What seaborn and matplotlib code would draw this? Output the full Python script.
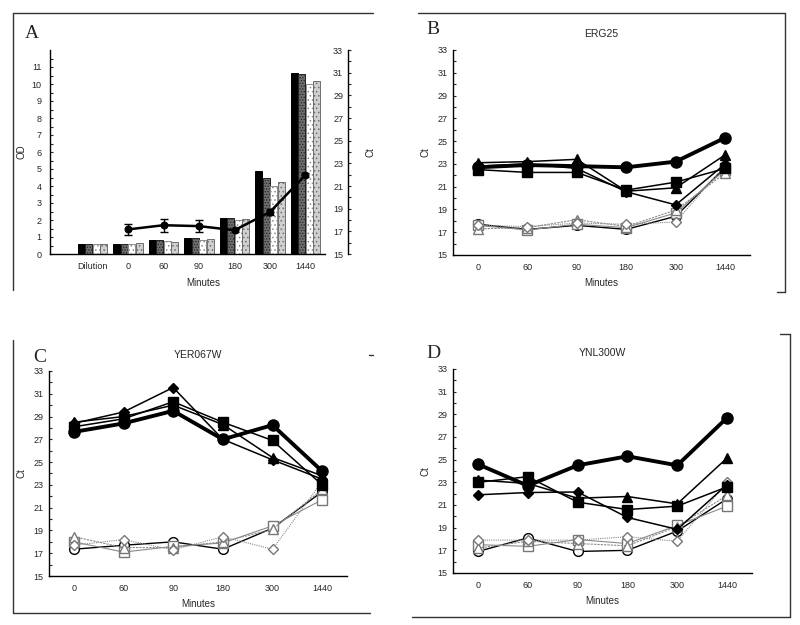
import numpy as np
import pandas as pd
import matplotlib
matplotlib.use("Agg")
import matplotlib.pyplot as plt
import seaborn as sns
from matplotlib.lines import Line2D

# ---- data ----
minutes = ["0", "60", "90", "180", "300", "1440"]
groups_a = ["Dilution"] + minutes

# panel A: OD of the four cultures, and mean Ct of the reference gene
od_black = [0.59, 0.59, 0.82, 0.92, 2.12, 4.88, 10.63]
od_dark = [0.59, 0.59, 0.82, 0.92, 2.12, 4.47, 10.59]
od_white = [0.59, 0.59, 0.75, 0.84, 1.98, 4.00, 10.00]
od_light = [0.59, 0.65, 0.69, 0.86, 2.08, 4.24, 10.18]
ct_mean = [17.17, 17.54, 17.46, 17.10, 18.71, 21.97]
ct_err = [0.45, 0.58, 0.55, 0.12, 0.30, 0.15]

# panels B-D: Ct per series (filled = treated, open = control)
erg25_fc = [22.7, 22.9, 22.8, 22.7, 23.2, 25.3]
erg25_fs = [22.5, 22.25, 22.25, 20.7, 21.4, 22.6]
erg25_ft = [23.1, 23.2, 23.4, 20.6, 20.9, 23.8]
erg25_fd = [22.8, 23.0, 22.6, 20.55, 19.4, 23.0]
erg25_oc = [17.7, 17.25, 17.6, 17.25, 18.4, 22.7]
erg25_os = [17.6, 17.2, 17.7, 17.4, 18.7, 22.5]
erg25_ot = [17.3, 17.4, 18.1, 17.5, 18.95, 22.2]
erg25_od = [17.6, 17.5, 17.8, 17.7, 17.9, 22.9]

yer_fc = [27.65, 28.4, 29.5, 27.0, 28.25, 24.2]
yer_fs = [28.1, 28.8, 30.3, 28.5, 26.9, 23.0]
yer_ft = [28.5, 29.0, 30.0, 28.3, 25.4, 23.8]
yer_fd = [28.4, 29.4, 31.55, 27.0, 25.2, 23.5]
yer_oc = [17.35, 17.7, 18.0, 17.35, 19.2, 22.4]
yer_os = [18.0, 17.1, 17.6, 17.9, 19.4, 21.7]
yer_ot = [18.45, 17.5, 17.5, 18.0, 19.1, 22.6]
yer_od = [17.7, 18.2, 17.3, 18.45, 17.35, 23.3]

ynl_fc = [24.6, 22.7, 24.5, 25.3, 24.5, 28.7]
ynl_fs = [23.0, 23.5, 21.25, 20.6, 20.9, 22.6]
ynl_ft = [23.2, 22.9, 21.6, 21.75, 21.1, 25.15]
ynl_fd = [21.9, 22.1, 22.15, 19.9, 18.85, 22.8]
ynl_oc = [16.9, 18.1, 16.9, 17.0, 18.7, 21.55]
ynl_os = [17.5, 17.35, 17.95, 17.6, 19.2, 20.9]
ynl_ot = [17.2, 17.8, 17.6, 17.4, 19.1, 21.85]
ynl_od = [17.9, 17.9, 17.9, 18.2, 17.8, 23.0]

# ---- style ----
sns.set_style("white")
plt.rcParams["font.family"] = ["Liberation Sans", "DejaVu Sans"]
plt.rcParams["hatch.linewidth"] = 0.6

fig = plt.figure(figsize=(8, 6.25), dpi=100)
W, H = 800, 625


def box(l, t, r, b):
    return fig.add_axes([l / W, 1 - b / H, (r - l) / W, (b - t) / H])


# marker, face, edge, line colour, line width, line style, marker size
series_styles = [
    ("o", "white", "black", "black", 1.0, "-", 7),
    ("s", "white", "#777777", "#8a8a8a", 0.8, "-", 6.5),
    ("^", "white", "#777777", "#8a8a8a", 0.8, (0, (2, 1)), 6.5),
    ("D", "white", "#777777", "#8a8a8a", 0.8, (0, (1, 1)), 5.5),
    ("s", "black", "black", "black", 1.1, "-", 7),
    ("^", "black", "black", "black", 1.1, "-", 7),
    ("D", "black", "black", "black", 1.1, "-", 5.5),
    ("o", "black", "black", "black", 2.8, "-", 8),
]


def ct_panel(ax, title, letter, lx, ly, oc, os_, ot, od, fs, ft, fd, fc):
    xpos = np.arange(len(minutes))
    for vals, (m, fcol, ecol, lcol, lw, ls, ms) in zip(
            [oc, os_, ot, od, fs, ft, fd, fc], series_styles):
        sns.lineplot(x=xpos, y=vals, ax=ax, color=lcol, lw=lw, linestyle=ls,
                     marker=m, markersize=ms, markerfacecolor=fcol,
                     markeredgecolor=ecol, markeredgewidth=1.0)
    ax.set_xlim(-0.5, 5.5)
    ax.set_ylim(15, 33)
    ax.set_xticks(xpos)
    ax.set_xticklabels(minutes)
    ax.set_xticks(np.arange(-0.5, 6, 1), minor=True)
    ax.set_yticks(range(15, 34, 2))
    ax.set_yticks(range(15, 34, 1), minor=True)
    ax.tick_params(axis="x", which="major", length=0, labelsize=6.5, pad=6)
    ax.tick_params(axis="x", which="minor", direction="in", length=3, width=0.8)
    ax.tick_params(axis="y", which="both", direction="in", length=2.5,
                   width=0.8, labelsize=6.5, pad=4, left=True)
    for s in ["top", "right"]:
        ax.spines[s].set_visible(False)
    for s in ["left", "bottom"]:
        ax.spines[s].set_color("black")
        ax.spines[s].set_linewidth(1.0)
    ax.set_xlabel("Minutes", fontsize=7, labelpad=4)
    ax.set_ylabel("Ct", fontsize=7, labelpad=5)
    ax.set_title(title, fontsize=7.5, pad=9)
    fig.text(lx / W, 1 - ly / H, letter, family=["Liberation Serif"],
             fontsize=14, ha="center", va="center")


# ---- panel A ----
axA = box(50, 50, 325, 254)
df_a = pd.DataFrame({
    "group": groups_a * 4,
    "od": od_black + od_dark + od_white + od_light,
    "culture": ["c1"] * 7 + ["c2"] * 7 + ["c3"] * 7 + ["c4"] * 7,
})
bar_faces = ["black", "#6e6e6e", "white", "#d0d0d0"]
bar_edges = ["black", "#222222", "#8c8c8c", "#6f6f6f"]
bar_hatch = [None, "......", "....", "...."]
sns.barplot(data=df_a, x="group", y="od", hue="culture", palette=bar_faces,
            saturation=1, width=0.84, gap=0.06, legend=False, ax=axA)
for cont, ec, ht in zip(axA.containers, bar_edges, bar_hatch):
    for patch in cont:
        patch.set_edgecolor(ec)
        patch.set_linewidth(0.7)
        if ht:
            patch.set_hatch(ht)
axA.set_xlim(-1.2, 6.55)
axA.set_ylim(0, 12)
axA.set_yticks(range(0, 12))
axA.set_yticks(np.arange(0, 12, 0.5), minor=True)
axA.set_xticks(np.arange(-0.5, 7, 1), minor=True)
axA.tick_params(axis="x", which="major", length=0, labelsize=6.5, pad=6)
axA.tick_params(axis="x", which="minor", direction="in", length=3, width=0.8)
axA.tick_params(axis="y", which="both", direction="in", length=2.5, width=0.8,
                labelsize=6.5, pad=6, left=True)
axA.set_xlabel("Minutes", fontsize=7)
axA.xaxis.set_label_coords(0.556, -0.12)
axA.set_ylabel("OD", fontsize=7, labelpad=4)
for s in ["top", "right"]:
    axA.spines[s].set_visible(False)
for s in ["left", "bottom"]:
    axA.spines[s].set_color("black")
    axA.spines[s].set_linewidth(1.0)

axA2 = axA.twinx()
xline = np.arange(1, 7)
sns.lineplot(x=xline, y=ct_mean, ax=axA2, color="black", lw=1.8,
             marker="o", markersize=5, markeredgecolor="black")
axA2.errorbar(xline, ct_mean, yerr=ct_err, fmt="none", ecolor="black",
              elinewidth=1.0, capsize=3, capthick=1.0)
axA2.set_xlim(-1.2, 6.55)
axA2.set_ylim(15, 33)
axA2.set_yticks(range(15, 34, 2))
axA2.set_yticks(range(15, 34, 1), minor=True)
for s in ["top", "left", "bottom"]:
    axA2.spines[s].set_visible(False)
axA2.spines["right"].set_position(("axes", (348 - 50) / 275))
axA2.spines["right"].set_color("black")
axA2.spines["right"].set_linewidth(1.0)
axA2.tick_params(axis="y", which="both", direction="out", length=2.5, width=0.8,
                 labelsize=6.5, pad=-6, right=True)
for lab in axA2.get_yticklabels():
    lab.set_horizontalalignment("right")
axA2.set_ylabel("Ct", fontsize=7, labelpad=10)
fig.text(32 / W, 1 - 33 / H, "A", family=["Liberation Serif"], fontsize=14,
         ha="center", va="center")

# ---- panels B, C, D ----
axB = box(453, 50, 750, 255)
ct_panel(axB, "ERG25", "B", 433, 30, erg25_oc, erg25_os, erg25_ot, erg25_od,
         erg25_fs, erg25_ft, erg25_fd, erg25_fc)
axC = box(49, 371, 347, 576)
ct_panel(axC, "YER067W", "C", 40, 357, yer_oc, yer_os, yer_ot, yer_od,
         yer_fs, yer_ft, yer_fd, yer_fc)
axD = box(453, 369, 752, 573)
ct_panel(axD, "YNL300W", "D", 433, 353, ynl_oc, ynl_os, ynl_ot, ynl_od,
         ynl_fs, ynl_ft, ynl_fd, ynl_fc)

# ---- frame lines around the panels ----
frame = [
    ((13, 13), (373, 13)), ((13, 13), (13, 290)),
    ((418, 13), (785, 13)), ((785, 13), (785, 292)), ((777, 292), (785, 292)),
    ((13, 340), (13, 613)), ((13, 613), (370, 613)), ((369, 355), (373, 355)),
    ((780, 334), (790, 334)), ((790, 334), (790, 617)), ((412, 617), (790, 617)),
]
for (x0, y0), (x1, y1) in frame:
    fig.add_artist(Line2D([x0 / W, x1 / W], [1 - y0 / H, 1 - y1 / H],
                          color="#333333", lw=1.0, transform=fig.transFigure))

fig.savefig("out.png", dpi=100)
